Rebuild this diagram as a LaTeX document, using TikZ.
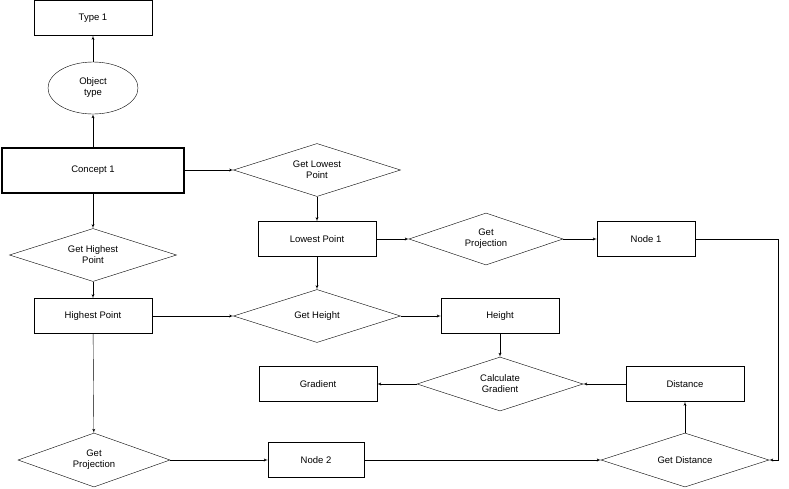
\documentclass[tikz,border=0pt]{standalone}
\usepackage{fontspec}
\setmainfont{Liberation Sans}
\usetikzlibrary{arrows, shapes.geometric}
\begin{document}
\begin{tikzpicture}[x=1pt, y=-1pt, font=\fontsize{9.5}{11}\selectfont]
          \tikzset{box/.style = {shape=rectangle, draw, minimum width=118pt, minimum height=35pt, inner sep=0pt}}
          \tikzset{test/.style = {shape=diamond, draw, aspect=3.2, minimum width=167pt, minimum height=53pt, inner sep=0pt, align=center}}
          \tikzset{edge/.style = {->, > = latex'}}
          \useasboundingbox (0,0) rectangle (789,488);
          \node[box] (type) at (93, 18) {Type 1};
          \node[ellipse, draw, minimum width=90pt, minimum height=52pt, inner sep=0pt, align=center] (otype) at (93, 88) {Object\\type};
          \node[box, line width=2pt, minimum width=182pt, minimum height=45pt] (concept) at (93, 170) {Concept 1};
          \node[test] (getlow) at (317, 170) {Get Lowest\\Point};
          \node[test] (gethigh) at (93, 255) {Get Highest\\Point};
          \node[box] (low) at (317, 239) {Lowest Point};
          \node[test, minimum width=154pt, minimum height=52pt] (proja) at (486, 239) {Get\\Projection};
          \node[box, minimum width=98pt] (nodea) at (646, 239) {Node 1};
          \node[box] (high) at (93, 316) {Highest Point};
          \node[test] (getheight) at (317, 316) {Get Height};
          \node[box] (height) at (500, 316) {Height};
          \node[test, minimum width=166pt, minimum height=54pt] (calc) at (500, 384) {Calculate\\Gradient};
          \node[box] (grad) at (318, 384) {Gradient};
          \node[box] (dist) at (685, 384) {Distance};
          \node[test, minimum width=152pt, minimum height=54pt] (projb) at (94, 460) {Get\\Projection};
          \node[box, minimum width=96pt] (nodeb) at (316, 460) {Node 2};
          \node[test, minimum width=168pt, minimum height=54pt] (getdist) at (685, 460) {Get Distance};
          \coordinate (bend) at (778, 239);

          \draw[edge] (concept) to (otype);
          \draw[edge] (otype) to (type);
          \draw[edge] (concept) to (getlow);
          \draw[edge] (getlow) to (low);
          \draw[edge] (low) to (proja);
          \draw[edge] (proja) to (nodea);
          \draw[edge] (nodea) -- (bend) |- (getdist);
          \draw[edge] (concept) to (gethigh);
          \draw[edge] (gethigh) to (high);
          \draw[edge] (high) to (getheight);
          \draw[edge] (low) to (getheight);
          \draw[edge] (getheight) to (height);
          \draw[edge] (height) to (calc);
          \draw[edge] (calc) to (grad);
          \draw[edge] (dist) to (calc);
          \draw[edge] (getdist) to (dist);
          \draw[edge] (high) to (projb);
          \draw[edge] (projb) to (nodeb);
          \draw[edge] (nodeb) to (getdist);
        \end{tikzpicture}
\end{document}
